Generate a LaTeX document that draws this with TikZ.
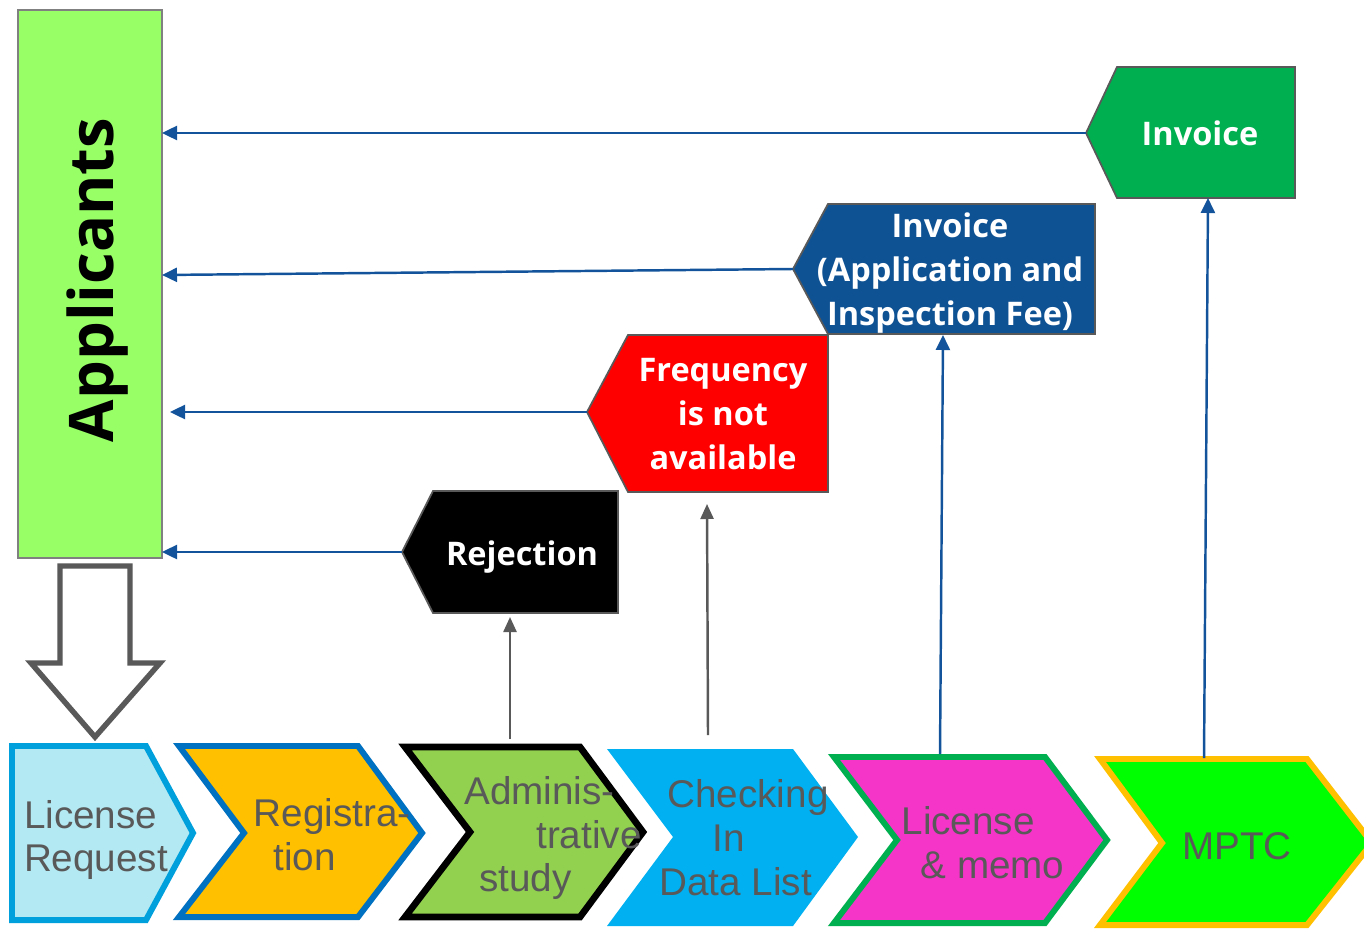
\documentclass[tikz,border=0pt]{standalone}
\usepackage{fontspec}
\setsansfont{Liberation Sans}
\newfontfamily\calloutfont{Open Sans}
\usetikzlibrary{arrows.meta}
\definecolor{appgreen}{HTML}{99FF66}
\definecolor{invgreen}{HTML}{00B050}
\definecolor{invblue}{HTML}{0F5294}
\definecolor{linkblue}{HTML}{13539B}
\definecolor{txtgray}{HTML}{595959}
\definecolor{lrfill}{HTML}{B3E9F2}
\definecolor{lrdraw}{HTML}{00A0DC}
\definecolor{regfill}{HTML}{FFC000}
\definecolor{regdraw}{HTML}{0070C0}
\definecolor{admfill}{HTML}{92D050}
\definecolor{chkfill}{HTML}{00B0F0}
\definecolor{licfill}{HTML}{F535C8}
\definecolor{mptcfill}{HTML}{00FF00}
\tikzstyle{chev}=[line width=3.4pt,line join=miter]
\tikzstyle{callout}=[draw=txtgray,line width=1pt]
\tikzstyle{steptext}=[text=txtgray,font=\sffamily\fontsize{22}{25}\selectfont,align=left,inner sep=0pt]
\tikzstyle{calltext}=[text=white,font=\calloutfont\bfseries\fontsize{18.5}{25}\selectfont,align=center,inner sep=0pt]
\tikzstyle{toapp}=[-{Triangle[length=0.3cm,width=0.28cm]},line width=1.4pt,draw=linkblue]
\tikzstyle{upblue}=[-{Triangle[length=0.3cm,width=0.28cm]},line width=1.4pt,draw=linkblue]
\tikzstyle{upgray}=[-{Triangle[length=0.3cm,width=0.26cm]},line width=1.4pt,draw=txtgray]
\begin{document}
\begin{tikzpicture}[x=0.02cm,y=-0.02cm]
\useasboundingbox[fill=white] (0,0) rectangle (1364,929);

% applicants
\node[draw=gray,line width=0.8pt,fill=appgreen,minimum width=2.88cm,minimum height=10.96cm,inner sep=0pt] (app) at (90,284) {};
\node[rotate=90,inner sep=0pt,font=\calloutfont\bfseries\fontsize{35}{40}\selectfont] (applbl) at (98,280) {Applicants};
\draw[draw=txtgray,line width=3.1pt,fill=white,line join=miter] (60,566) -- (130,566) -- (130,663) -- (160,663) -- (95,737) -- (31,663) -- (60,663) -- cycle;

% steps
\draw[chev,draw=lrdraw,fill=lrfill] (12,746) -- (146,746) -- (193,833) -- (146,920) -- (12,920) -- cycle;
\draw[chev,draw=regdraw,fill=regfill] (179,746) -- (358,746) -- (422,833) -- (358,917) -- (179,917) -- (244,833) -- cycle;
\draw[chev,draw=black,line width=3.8pt,fill=admfill] (405,747) -- (580,747) -- (643,832) -- (580,917) -- (405,917) -- (470,832) -- cycle;
\fill[chkfill] (607,749) -- (793,749) -- (858,837) -- (793,926) -- (607,926) -- (673,837) -- cycle;
\draw[chev,draw=invgreen,fill=licfill] (834,757) -- (1045,757) -- (1107,840) -- (1045,923) -- (834,923) -- (897,840) -- cycle;
\draw[chev,draw=regfill,fill=mptcfill] (1100,759) -- (1307,759) -- (1372,843) -- (1307,925) -- (1100,925) -- (1162,843) -- cycle;

\node[steptext] (lr) at (96,840) {License\\Request};
\node[steptext] (reg) at (332,835) {Registra-\\\hspace*{0.4cm}tion};
\node[steptext] (adm) at (553,838) {Adminis-\\\hspace*{1.44cm}trative\\\hspace*{0.3cm}study};
\node[steptext] (chk) at (744,838) {\hspace*{0.16cm}Checking\\\hspace*{1.06cm}In\\Data List};
\node[steptext] (lic) at (983,843) {License\\\hspace*{0.38cm}\& memo};
\node[steptext] (mptc) at (1237,846) {MPTC};

% callouts
\coordinate (inv1-tip) at (1086,133);
\coordinate (inv2-tip) at (793,269);
\coordinate (freq-tip) at (587,412);
\coordinate (rej-tip) at (402,552);
\draw[callout,fill=invgreen] (inv1-tip) -- (1117,67) -- (1295,67) -- (1295,198) -- (1117,198) -- cycle;
\draw[callout,fill=invblue] (inv2-tip) -- (828,204) -- (1095,204) -- (1095,334) -- (828,334) -- cycle;
\draw[callout,fill=red] (freq-tip) -- (628,335) -- (828,335) -- (828,492) -- (628,492) -- cycle;
\draw[callout,fill=black] (rej-tip) -- (433,491) -- (618,491) -- (618,613) -- (433,613) -- cycle;

\node[calltext] (inv1) at (1200,133) {Invoice};
\node[calltext] (inv2) at (950,273) {Invoice\\(Application and\\Inspection Fee)};
\node[calltext] (freq) at (723,414) {Frequency\\is not\\available};
\node[calltext] (rej) at (522,557) {Rejection};

% back to applicants
\coordinate (app-in1) at (162,133);
\coordinate (app-in2) at (162,275);
\coordinate (app-in3) at (170,412);
\coordinate (app-in4) at (162,552);
\draw[toapp] (inv1-tip) -- (app-in1);
\draw[toapp] (inv2-tip) -- (app-in2);
\draw[toapp] (freq-tip) -- (app-in3);
\draw[toapp] (rej-tip) -- (app-in4);

% up from steps
\coordinate (adm-top) at (510,739);
\coordinate (chk-top) at (708,735);
\coordinate (lic-top) at (940,754);
\coordinate (mptc-top) at (1204,758);
\coordinate (rej-bot) at (510,617);
\coordinate (freq-bot) at (707,504);
\coordinate (inv2-bot) at (943,335);
\coordinate (inv1-bot) at (1208,198);
\draw[upgray] (adm-top) -- (rej-bot);
\draw[upgray] (chk-top) -- (freq-bot);
\draw[upblue] (lic-top) -- (inv2-bot);
\draw[upblue] (mptc-top) -- (inv1-bot);
\end{tikzpicture}
\end{document}
